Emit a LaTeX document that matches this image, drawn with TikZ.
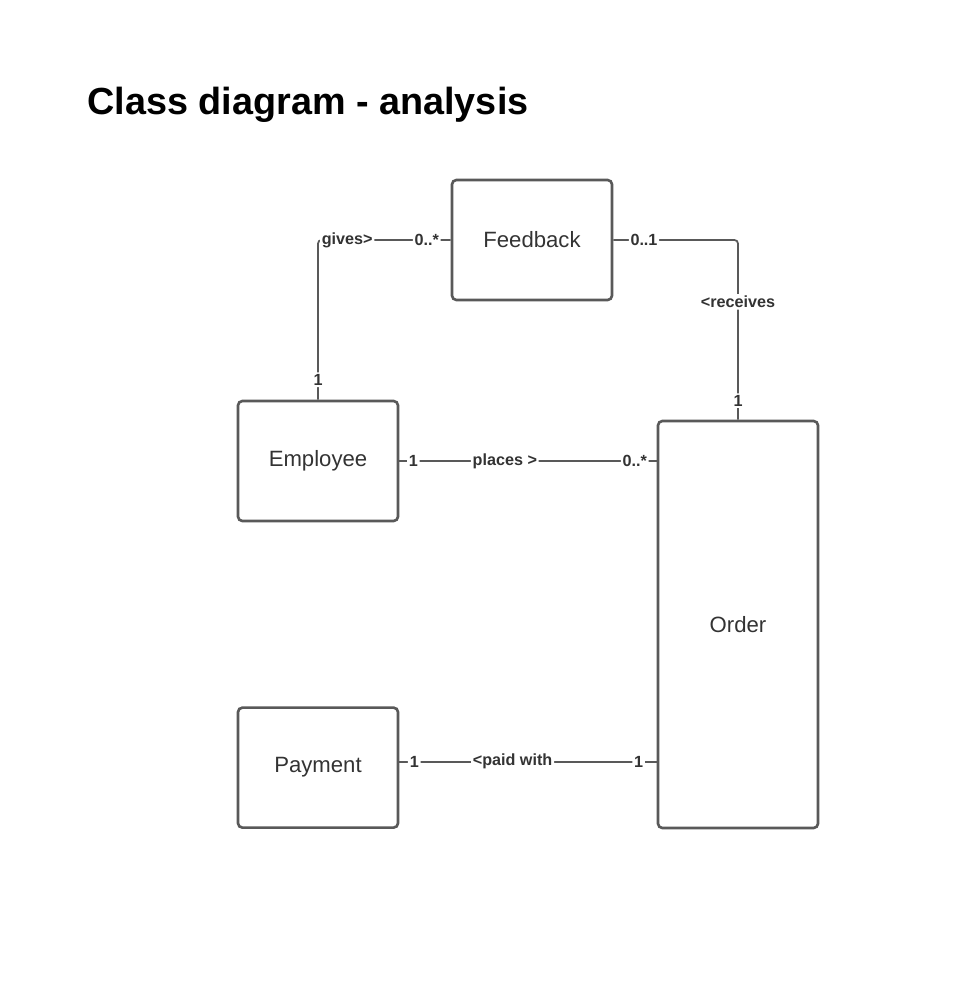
\documentclass[tikz,border=0pt]{standalone}
\usepackage{fontspec}
\setmainfont{Liberation Sans}
\usepackage{tikz}
\usetikzlibrary{positioning, calc}

\definecolor{edgegray}{HTML}{595959}
\definecolor{textgray}{HTML}{333333}

\begin{document}
\begin{tikzpicture}[thick,
    classbox/.style={rectangle, draw=edgegray, line width=1.5pt, rounded corners=2.5pt,
        minimum width=3.2cm, minimum height=2.4cm, text=textgray, font=\fontsize{12.6}{14}\selectfont},
    assoc/.style={draw=edgegray, line width=1pt, rounded corners=2pt},
    lbl/.style={fill=white, inner sep=1pt, text=textgray, font=\fontsize{9.2}{10}\selectfont\bfseries}]
        \useasboundingbox (0,0) rectangle (19.12,-20.12);

        % Title
        \node (Title) [anchor=west, font=\fontsize{21.5}{24}\selectfont\bfseries] at (1.62,-2.1) {Class diagram - analysis};

        % Classes
        \node (Feedback) [classbox] at (10.64,-4.8) {Feedback};
        \node (Employee) [classbox] at (6.36,-9.22) {Employee};
        \node (Payment) [classbox, below=3.68cm of Employee] {Payment};
        \node (Order) [classbox, minimum height=8.14cm] at (14.76,-12.49) {Order};

        % Associations
        \draw[assoc] (Employee.north) |- node[lbl, pos=0.0625] {1}
            node[lbl, pos=0.61] {gives>}
            node[lbl, pos=0.91] {0..*} (Feedback.west);
        \draw[assoc] (Feedback.east) -| node[lbl, pos=0.123] {0..1}
            node[lbl, pos=0.672] {<receives}
            node[lbl, pos=0.947] {1} (Order.north);
        \draw[assoc] (Employee.east) -- node[lbl, pos=0.055] {1}
            node[lbl, pos=0.41] {places >}
            node[lbl, pos=0.915] {0..*} (Employee.east -| Order.west);
        \draw[assoc] ($(Payment.east)+(0,0.12)$) -- node[lbl, pos=0.058] {1}
            node[lbl, pos=0.44] {<paid with}
            node[lbl, pos=0.93] {1} ($(Payment.east -| Order.west)+(0,0.12)$);
    \end{tikzpicture}
\end{document}
